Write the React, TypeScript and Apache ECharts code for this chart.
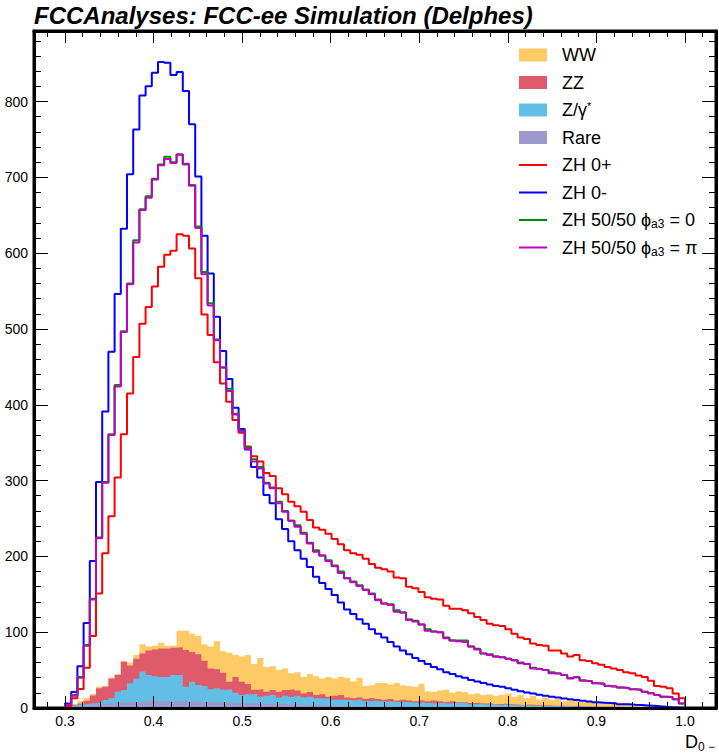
import React, { useEffect, useRef } from "react";
import * as echarts from "echarts";

// Histogram binning: 100 bins of width 0.007 starting at 0.3
const BIN_START = 0.3;
const BIN_WIDTH = 0.007;

// Backgrounds (per process, stacked bottom -> top: Rare, Z/γ*, ZZ, WW)
const rare = [
  1.5, 2, 3, 3.5, 4, 5, 5.5, 6, 7, 7,
  8, 8, 8.5, 8.5, 9, 9, 9, 9, 9, 8.5,
  8.5, 8, 8, 8, 7.5, 7.5, 7, 7, 6.5, 6.5,
  6, 6, 5.5, 5.5, 5, 5, 4.5, 4.5, 4, 4,
  3.5, 3.5, 3.2, 3, 3, 2.8, 2.6, 2.5, 2.4, 2.2,
  2.1, 2, 1.9, 1.8, 1.7, 1.6, 1.5, 1.5, 1.4, 1.3,
  1.3, 1.2, 1.1, 1.1, 1, 1, 0.9, 0.9, 0.8, 0.8,
  0.8, 0.7, 0.7, 0.6, 0.6, 0.6, 0.5, 0.5, 0.5, 0.5,
  0.4, 0.4, 0.4, 0.4, 0.3, 0.3, 0.3, 0.3, 0.3, 0.2,
  0.2, 0.2, 0.2, 0.2, 0.1, 0.1, 0.1, 0.1, 0.1, 0.1,
];
const zgamma = [
  0.5, 1, 1.5, 1.5, 2, 2, 5.1, 6.7, 14.5, 16.7,
  24.5, 31, 39.5, 35, 33, 32, 32, 34.5, 34.5, 19.5,
  26.2, 22.3, 21, 16.6, 18.5, 16.5, 17.6, 13.2, 10.5, 11.5,
  12.5, 9, 10.5, 11.5, 9, 11, 10.5, 11.5, 10, 11,
  9.5, 9, 9.8, 8, 8, 7.7, 7.4, 8.5, 6.6, 7.3,
  6.9, 6.5, 6.6, 6.2, 6.3, 5.9, 5.5, 6, 5.1, 4.7,
  5.2, 4.8, 5.4, 5.9, 5.5, 4, 4.6, 4.1, 3.7, 3.2,
  3.7, 3.3, 2.8, 2.9, 2.9, 2.4, 2.5, 2.5, 2, 2,
  2.1, 1.6, 1.6, 1.6, 1.5, 1.4, 1.3, 1.2, 1.1, 1.1,
  1, 0.9, 0.8, 0.7, 0.7, 0.4, 0.2, 0.1, 0, 0,
];
const zz = [
  0, 1, 1.5, 4.7, 10.5, 18.9, 17.4, 26.3, 22, 37.3,
  23.5, 26, 24, 32.5, 35, 37.5, 37.5, 36.1, 36.5, 48.5,
  39.3, 40.7, 33.4, 27.4, 25, 22.5, 10.1, 20.8, 17.7, 13.7,
  5.5, 9.6, 5.5, 6.7, 7.5, 7.7, 9.6, 7, 5, 6,
  4, 5.5, 2, 5, 6, 3.5, 3, 3, 3, 3.5,
  3, 2.5, 3.5, 2, 3, 2.5, 2, 2.5, 2.5, 4,
  2.5, 2, 2.5, 0.5, 1, 1.5, 1.5, 1, 1.5, 1,
  1, 1, 1, 0.5, 1, 1, 0.5, 0.5, 0.5, 0.5,
  0.5, 0.5, 0.5, 0.3, 0.3, 0.3, 0.3, 0.3, 0.3, 0.2,
  0.2, 0.2, 0.2, 0.1, 0.2, 0.2, 0.1, 0.1, 0.1, 0.1,
];
const ww = [
  0.5, 1.3, 3, 3, 2, 2.1, 1, 1, 1.5, 1,
  4, 5, 12, 5, 5, 7.5, 3.5, 2.9, 22, 25.5,
  24, 24, 21.6, 29, 37, 28.5, 38.3, 29, 33.3, 38.3,
  34, 41.4, 32.5, 31.3, 28.5, 28.3, 21.4, 24, 22, 24,
  25, 21, 26, 23, 24, 26, 22, 26, 17, 17,
  21, 22, 19, 23, 19, 19, 19, 22, 13, 11,
  14, 16, 11, 14.5, 13.5, 11.5, 12, 11, 12, 11,
  11.5, 14, 10.5, 13, 8.5, 12, 7.5, 10.5, 8, 9,
  6, 8.5, 6.5, 5.7, 6.9, 5, 6.1, 4.2, 5.3, 3.5,
  4.6, 3.2, 3.8, 2.5, 2, 1.8, 1.1, 0.7, 0.3, 0.1,
];

// Signal hypotheses (drawn as outlines)
const zh0p = [
  2, 13, 25, 53, 95, 151, 204, 253, 304, 361,
  415, 463, 507, 529, 556, 582, 598, 603, 625, 623,
  606, 567, 519, 492, 456, 428, 404, 380, 363, 345,
  332, 325, 310, 306, 290, 282, 272, 266, 259, 248,
  238, 235, 230, 223, 216, 208, 204, 202, 197, 190,
  185, 183, 180, 172, 171, 160, 158, 153, 146, 144,
  143, 135, 131, 131, 129, 125, 120, 116, 111, 109,
  108, 104, 98, 93, 91, 85, 83, 82, 76, 76,
  72, 68, 70, 63, 62, 59, 57, 54, 52, 50,
  47, 46, 43, 41, 36, 29, 28, 26, 19, 13,
];
const zh0m = [
  6, 21, 55, 112, 194, 298, 391, 470, 546, 632,
  704, 763, 808, 820, 838, 852, 851, 835, 839, 814,
  770, 701, 623, 573, 516, 471, 434, 396, 368, 341,
  318, 304, 281, 270, 249, 236, 220, 208, 197, 186,
  173, 165, 157, 149, 139, 130, 124, 117, 111, 104,
  98, 93, 87, 81, 76, 71, 66, 62, 58, 54,
  51, 47, 45, 42, 40, 37, 35, 33, 31, 29,
  28, 26, 24, 22, 20.5, 19, 17.5, 16, 15, 14,
  12.5, 11.5, 10.5, 9.5, 8.5, 7.5, 7, 6.5, 6, 5,
  4.8, 4.2, 3.8, 3.4, 3, 2.2, 1.5, 1, 0.6, 0.3,
];
const zh5050phi0 = [
  4, 17, 41, 83, 144, 225, 298, 361, 426, 497,
  560, 617, 658, 675, 698, 717, 727, 720, 730, 717,
  690, 635, 575, 534, 486, 449, 421, 388, 366, 344,
  328, 318, 297, 291, 272, 260, 247, 241, 231, 218,
  208, 201, 195, 188, 180, 171, 167, 162, 156, 151,
  143, 138, 137, 129, 126, 117, 115, 110, 104, 101,
  100, 93, 89, 89, 89, 81, 78, 72, 71, 68,
  67, 65, 63, 60, 58, 53, 51.5, 50, 47, 45.5,
  43.5, 39.5, 40.5, 36.5, 35.5, 32.5, 32, 29.5, 28.5, 27,
  26.5, 24.6, 24, 21.5, 19.4, 17, 15, 14.5, 11.4, 6,
];
const zh5050phiPi = [
  4, 16, 40, 82, 143, 224, 297, 360, 424, 496,
  559, 614, 657, 673, 697, 716, 724, 719, 730, 718,
  689, 633, 572, 531, 485, 449, 418, 387, 365, 342,
  325, 316, 296, 290, 270, 259, 247, 239, 230, 217,
  206, 201, 194, 187, 178, 171, 166, 161, 156, 150,
  142, 138, 136, 127, 126, 116, 114, 110, 102, 101,
  100, 92, 89, 88, 87, 81, 77, 72, 70, 68,
  67, 65, 63, 59, 58, 52, 51.5, 50, 46, 45.5,
  43.5, 39, 40.5, 36, 35.5, 32.5, 32, 29, 28.5, 27,
  26.5, 24.6, 24, 21.5, 19.4, 17, 15, 14.5, 11.4, 6,
];

// Axis ticks
const xMajorTicks = [0.3, 0.4, 0.5, 0.6, 0.7, 0.8, 0.9, 1.0];
const xMinorTicks = [
  0.28, 0.32, 0.34, 0.36, 0.38, 0.42, 0.44, 0.46, 0.48, 0.52, 0.54, 0.56, 0.58,
  0.62, 0.64, 0.66, 0.68, 0.72, 0.74, 0.76, 0.78, 0.82, 0.84, 0.86, 0.88,
  0.92, 0.94, 0.96, 0.98, 1.02,
];
const yMajorTicks = [0, 100, 200, 300, 400, 500, 600, 700, 800];
const yMinorTicks = [
  20, 40, 60, 80, 120, 140, 160, 180, 220, 240, 260, 280, 320, 340, 360, 380,
  420, 440, 460, 480, 520, 540, 560, 580, 620, 640, 660, 680, 720, 740, 760, 780,
  820, 840, 860, 880,
];

const X_MIN = 0.265;
const X_MAX = 1.035;
const Y_MIN = 0;
const Y_MAX = 893;

const FONT = "'Liberation Sans', Arial, Helvetica, sans-serif";

const COLORS = {
  ww: "#fdca65",
  zz: "#df5a6b",
  zgamma: "#63bee6",
  rare: "#9c99cc",
  zh0p: "#ff0000",
  zh0m: "#0000ff",
  phi0: "#008a00",
  phiPi: "#c000c0",
};

function binEdges(n: number): number[] {
  const e: number[] = [];
  for (let i = 0; i <= n; i++) e.push(+(BIN_START + BIN_WIDTH * i).toFixed(4));
  return e;
}

// cumulative top of the stack up to (and including) layer k, as step points
function stackTopData(layers: number[][], k: number): number[][] {
  const n = layers[k].length;
  const e = binEdges(n);
  const d: number[][] = [];
  for (let i = 0; i < n; i++) {
    let top = 0;
    for (let j = 0; j <= k; j++) top += layers[j][i];
    d.push([e[i], +top.toFixed(3)]);
  }
  d.push([e[n], d[n - 1][1]]);
  return d;
}

function outlineData(vals: number[]): number[][] {
  const n = vals.length;
  const e = binEdges(n);
  const d: number[][] = [[e[0], 0]];
  vals.forEach((v, i) => d.push([e[i], v]));
  d.push([e[n], vals[n - 1]]);
  d.push([e[n], 0]);
  return d;
}

const LEG_LINE_ICON = "path://M0,0 L28,0 L28,2 L0,2 Z";

export default function App() {
  const ref = useRef<HTMLDivElement>(null);

  useEffect(() => {
    if (!ref.current) return;
    const chart = echarts.init(ref.current, undefined, { renderer: "svg" });

    const tickStyle = { color: "#000", width: 1 };
    const xBase = {
      type: "value",
      min: X_MIN,
      max: X_MAX,
      splitLine: { show: false },
      z: 10,
    };
    const yBase = {
      type: "value",
      min: Y_MIN,
      max: Y_MAX,
      splitLine: { show: false },
      z: 10,
    };

    const layers = [rare, zgamma, zz, ww];

    // Each layer is drawn as a filled step area from 0 up to the cumulative
    // stack top; layers are painted from the top of the stack downwards.
    const fillSeries = (name: string, k: number, color: string) => ({
      name,
      type: "line",
      step: "end",
      data: stackTopData(layers, k),
      symbol: "none",
      showSymbol: false,
      color,
      itemStyle: { color, borderWidth: 0 },
      lineStyle: { width: 0, color },
      areaStyle: { color, opacity: 1, origin: "start" },
      z: 2,
    });
    const lineSeries = (name: string, vals: number[], color: string, z: number) => ({
      name,
      type: "line",
      step: "end",
      data: outlineData(vals),
      symbol: "none",
      showSymbol: false,
      color,
      itemStyle: { color },
      lineStyle: { width: 2, color },
      z,
    });

    const option = {
      animation: false,
      textStyle: { fontFamily: FONT },
      title: {
        text: "FCCAnalyses: FCC-ee Simulation (Delphes)",
        left: 34,
        top: 3,
        padding: 0,
        textStyle: {
          fontSize: 24,
          fontWeight: "bold",
          fontStyle: "italic",
          color: "#000",
          fontFamily: FONT,
        },
      },
      grid: {
        left: 34,
        right: 3,
        top: 31,
        bottom: 45,
        containLabel: false,
        show: true,
        borderColor: "#000",
        borderWidth: 3,
        backgroundColor: "transparent",
      },
      legend: {
        orient: "vertical",
        left: 519,
        top: 45,
        padding: 0,
        itemWidth: 28,
        itemHeight: 13,
        itemGap: 7.5,
        symbolKeepAspect: true,
        itemStyle: { borderWidth: 0 },
        textStyle: {
          fontSize: 18,
          lineHeight: 20,
          color: "#000",
          fontFamily: FONT,
          padding: [0, 0, 0, 10],
          rich: {
            sup: { fontSize: 11, lineHeight: 11, verticalAlign: "top", fontFamily: FONT },
            sub: { fontSize: 12, lineHeight: 12, verticalAlign: "bottom", fontFamily: FONT },
          },
        },
        formatter: (name: string) => {
          if (name === "Z/γ*") return "Z/γ{sup|*}";
          if (name === "ZH 50/50 ϕa3 = 0") return "ZH 50/50 ϕ{sub|a3} = 0";
          if (name === "ZH 50/50 ϕa3 = π") return "ZH 50/50 ϕ{sub|a3} = π";
          return name;
        },
        data: [
          { name: "WW", icon: "rect" },
          { name: "ZZ", icon: "rect" },
          { name: "Z/γ*", icon: "rect" },
          { name: "Rare", icon: "rect" },
          { name: "ZH 0+", icon: LEG_LINE_ICON },
          { name: "ZH 0-", icon: LEG_LINE_ICON },
          { name: "ZH 50/50 ϕa3 = 0", icon: LEG_LINE_ICON },
          { name: "ZH 50/50 ϕa3 = π", icon: LEG_LINE_ICON },
        ],
      },
      xAxis: [
        {
          ...xBase,
          position: "bottom",
          axisLine: { show: true, onZero: false, lineStyle: { color: "#000", width: 3 } },
          axisTick: { show: true, inside: true, length: 12, customValues: xMajorTicks, lineStyle: tickStyle },
          axisLabel: {
            show: true,
            customValues: xMajorTicks,
            formatter: (v: number) => v.toFixed(1),
            color: "#000",
            fontSize: 14,
            margin: 6,
            fontFamily: FONT,
          },
        },
        {
          ...xBase,
          position: "bottom",
          axisLine: { show: false, onZero: false },
          axisTick: { show: true, inside: true, length: 6, customValues: xMinorTicks, lineStyle: tickStyle },
          axisLabel: { show: false },
        },
        {
          ...xBase,
          position: "top",
          axisLine: { show: true, onZero: false, lineStyle: { color: "#000", width: 3 } },
          axisTick: { show: true, inside: true, length: 12, customValues: xMajorTicks, lineStyle: tickStyle },
          axisLabel: { show: false },
        },
        {
          ...xBase,
          position: "top",
          axisLine: { show: false, onZero: false },
          axisTick: { show: true, inside: true, length: 6, customValues: xMinorTicks, lineStyle: tickStyle },
          axisLabel: { show: false },
        },
      ],
      yAxis: [
        {
          ...yBase,
          position: "left",
          axisLine: { show: true, onZero: false, lineStyle: { color: "#000", width: 3 } },
          axisTick: { show: true, inside: true, length: 14, customValues: yMajorTicks, lineStyle: tickStyle },
          axisLabel: {
            show: true,
            customValues: yMajorTicks,
            formatter: (v: number) => String(Math.round(v)),
            color: "#000",
            fontSize: 14,
            margin: 6,
            fontFamily: FONT,
          },
        },
        {
          ...yBase,
          position: "left",
          axisLine: { show: false, onZero: false },
          axisTick: { show: true, inside: true, length: 7, customValues: yMinorTicks, lineStyle: tickStyle },
          axisLabel: { show: false },
        },
        {
          ...yBase,
          position: "right",
          axisLine: { show: true, onZero: false, lineStyle: { color: "#000", width: 3 } },
          axisTick: { show: true, inside: true, length: 14, customValues: yMajorTicks, lineStyle: tickStyle },
          axisLabel: { show: false },
        },
        {
          ...yBase,
          position: "right",
          axisLine: { show: false, onZero: false },
          axisTick: { show: true, inside: true, length: 7, customValues: yMinorTicks, lineStyle: tickStyle },
          axisLabel: { show: false },
        },
      ],
      graphic: [
        {
          type: "text",
          x: 685,
          y: 733,
          style: { text: "D", fontSize: 18, fontFamily: FONT, fill: "#000" },
        },
        {
          type: "text",
          x: 698,
          y: 741,
          style: { text: "0 −", fontSize: 12, fontFamily: FONT, fill: "#000" },
        },
      ],
      series: [
        fillSeries("WW", 3, COLORS.ww),
        fillSeries("ZZ", 2, COLORS.zz),
        fillSeries("Z/γ*", 1, COLORS.zgamma),
        fillSeries("Rare", 0, COLORS.rare),
        lineSeries("ZH 0+", zh0p, COLORS.zh0p, 3),
        lineSeries("ZH 0-", zh0m, COLORS.zh0m, 3),
        lineSeries("ZH 50/50 ϕa3 = 0", zh5050phi0, COLORS.phi0, 3),
        lineSeries("ZH 50/50 ϕa3 = π", zh5050phiPi, COLORS.phiPi, 4),
      ],
    };

    chart.setOption(option as any);
    return () => chart.dispose();
  }, []);

  return (
    <div
      ref={ref}
      style={{ position: "fixed", left: 0, top: 0, width: 719, height: 753, background: "#fff" }}
    />
  );
}
